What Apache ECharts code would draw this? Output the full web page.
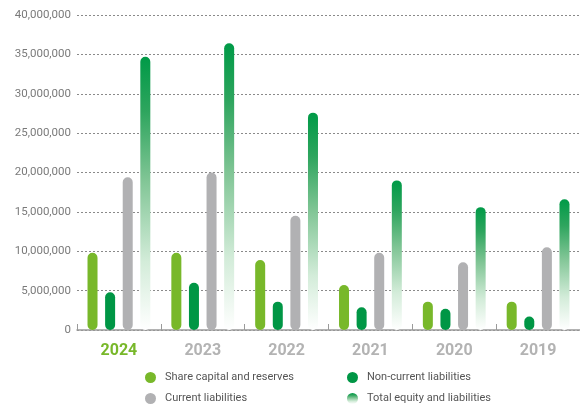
<!DOCTYPE html>
<html>
<head>
<meta charset="utf-8">
<script src="https://cdn.jsdelivr.net/npm/echarts@6/dist/echarts.min.js"></script>
<style>
html, body { margin: 0; padding: 0; background: #ffffff; }
#chart { width: 580px; height: 410px; }
</style>
</head>
<body>
<div id="chart"></div>
<script>
const years = ['2024', '2023', '2022', '2021', '2020', '2019']
const shareCapital = [9800000, 9800000, 8900000, 5700000, 3600000, 3600000]
const nonCurrent = [4800000, 6000000, 3600000, 2900000, 2700000, 1700000]
const current = [19400000, 20000000, 14500000, 9800000, 8600000, 10500000]
const totalEquity = [34700000, 36400000, 27600000, 19000000, 15600000, 16600000]

const myChart = echarts.init(document.getElementById('chart'))

const barBase = {
	type: 'bar',
	barWidth: 10,
	barGap: '76%'
}

const totalGradient = new echarts.graphic.LinearGradient(0, 0, 0, 1, [
	{ offset: 0, color: '#009a47' },
	{ offset: 0.2, color: '#2ea55e' },
	{ offset: 0.45, color: '#80c595' },
	{ offset: 0.75, color: '#d3ecd9' },
	{ offset: 1, color: '#ffffff' }
])

// one legend per item so the 2x2 layout sits where the original has it
function legendItem(name, left, top) {
	return {
		left: left,
		top: top,
		icon: 'circle',
		itemWidth: 11,
		itemHeight: 11,
		padding: 0,
		textStyle: { color: '#555', fontSize: 11, fontFamily: 'Roboto', padding: [0, 0, 0, 4] },
		data: [name]
	}
}

myChart.setOption({
	animation: false,
	backgroundColor: '#ffffff',
	grid: {
		left: 77,
		top: 15,
		width: 507,
		bottom: 80
	},
	legend: [
		legendItem('Share capital and reserves', 145, 372),
		legendItem('Current liabilities', 145, 393),
		legendItem('Non-current liabilities', 347, 372),
		legendItem('Total equity and liabilities', 347, 393)
	],
	xAxis: {
		type: 'category',
		data: years,
		axisLine: { lineStyle: { color: '#9a9a9a', width: 1.5 } },
		axisTick: { show: true, inside: true, length: 6, lineStyle: { color: '#9a9a9a' } },
		axisLabel: {
			margin: 13,
			fontSize: 16,
			fontWeight: 'bold',
			fontFamily: 'Roboto',
			color: function (value) {
				return value === '2024' ? '#78b82a' : '#b3b3b3'
			}
		}
	},
	yAxis: {
		type: 'value',
		min: 0,
		max: 40000000,
		interval: 5000000,
		axisLine: { show: false },
		axisTick: { show: false },
		axisLabel: {
			margin: 6,
			fontSize: 11.5,
			fontFamily: 'Roboto',
			color: '#7a7a7a',
			formatter: function (v) {
				return v.toLocaleString('en-US')
			}
		},
		splitLine: {
			lineStyle: { color: '#8a8a8a', type: [2, 2], width: 1 }
		}
	},
	series: [
		Object.assign({}, barBase, {
			name: 'Share capital and reserves',
			itemStyle: { color: '#78b82a', borderRadius: 5 },
			data: shareCapital
		}),
		Object.assign({}, barBase, {
			name: 'Non-current liabilities',
			itemStyle: { color: '#009645', borderRadius: 5 },
			data: nonCurrent
		}),
		Object.assign({}, barBase, {
			name: 'Current liabilities',
			itemStyle: { color: '#b1b1b3', borderRadius: 5 },
			data: current
		}),
		Object.assign({}, barBase, {
			name: 'Total equity and liabilities',
			itemStyle: { color: totalGradient, borderRadius: 5 },
			data: totalEquity
		})
	]
})
</script>
</body>
</html>
